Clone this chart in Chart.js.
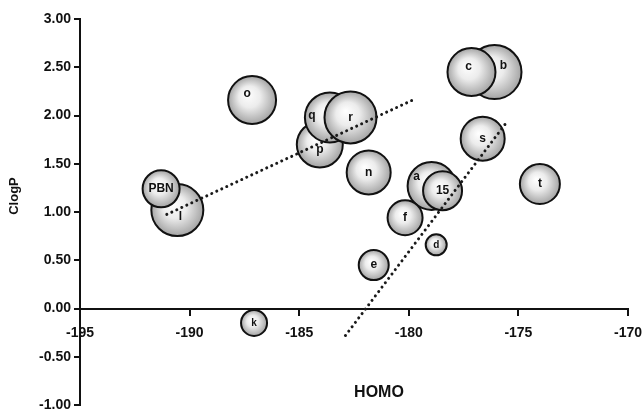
<!DOCTYPE html>
<html>
<head>
<meta charset="utf-8">
<script src="https://cdn.jsdelivr.net/npm/chart.js@4.4.1/dist/chart.umd.min.js"></script>
<style>
  html, body { margin: 0; padding: 0; background: #fff; }
  #wrap { width: 643px; height: 411px; }
</style>
</head>
<body>
<div id="wrap"><canvas id="bubbleChart"></canvas></div>
<script>
// compounds, in drawing order (later ones sit on top)
const compounds = ["l", "PBN", "o", "p", "q", "r", "n", "a", "15", "f", "d", "e", "k", "b", "c", "s", "t"];
const homo = [-190.56, -191.3, -187.15, -184.06, -183.6, -182.66, -181.83, -178.96, -178.46, -180.17, -178.75, -181.6, -187.06, -176.09, -177.14, -176.63, -174.02];
const clogp = [1.02, 1.24, 2.16, 1.70, 1.98, 1.98, 1.41, 1.27, 1.22, 0.94, 0.66, 0.45, -0.15, 2.45, 2.45, 1.76, 1.29];
const bubbleSize = [26, 18.5, 24, 23, 25, 26, 22, 24, 19.5, 17.5, 10.5, 15, 13, 27, 24, 22, 20];

// dotted trend lines (end points)
const trend1X = [-191.04, -179.73];
const trend1Y = [0.975, 2.17];
const trend2X = [-182.89, -175.57];
const trend2Y = [-0.28, 1.92];

const xTitle = "HOMO";
const yTitle = "ClogP";

// small nudges for the letters inside the bubbles
const labelNudge = {
    "l": [3, 7], "o": [-5, -6], "q": [-18, -2], "p": [0, 5],
    "a": [-15, -9], "c": [-3, -5], "b": [9, -6]
};

const bubbleData = compounds.map((name, i) => ({ x: homo[i], y: clogp[i], r: bubbleSize[i], name: name }));

function shade(context) {
    const chart = context.chart;
    const raw = context.raw;
    if (!chart.scales.x || !chart.scales.y || !raw) return "#dddddd";
    const cx = chart.scales.x.getPixelForValue(raw.x);
    const cy = chart.scales.y.getPixelForValue(raw.y);
    const r = raw.r;
    if (!isFinite(cx) || !isFinite(cy)) return "#dddddd";
    const g = chart.ctx.createRadialGradient(cx - r * 0.2, cy - r * 0.25, 0, cx, cy, r);
    g.addColorStop(0, "#ffffff");
    g.addColorStop(0.45, "#ececec");
    g.addColorStop(1, "#a4a4a4");
    return g;
}

const bubbleLabels = {
    id: "bubbleLabels",
    afterDatasetsDraw(chart) {
        const meta = chart.getDatasetMeta(2);
        const ctx = chart.ctx;
        ctx.save();
        ctx.fillStyle = "#111";
        ctx.textAlign = "center";
        ctx.textBaseline = "middle";
        meta.data.forEach((el, i) => {
            const name = compounds[i];
            const nudge = labelNudge[name] || [0, 0];
            const size = name === "k" || name === "d" ? 10 : 12;
            ctx.font = "bold " + size + "px 'Liberation Sans', Arial, sans-serif";
            ctx.fillText(name, el.x + nudge[0], el.y + nudge[1]);
        });
        ctx.restore();
    }
};

// axis titles sit a little off-centre in the original
const axisTitles = {
    id: "axisTitles",
    afterDraw(chart) {
        const ctx = chart.ctx;
        const area = chart.chartArea;
        ctx.save();
        ctx.fillStyle = "#111";
        ctx.textAlign = "center";
        ctx.textBaseline = "middle";
        ctx.font = "bold 16px 'Liberation Sans', Arial, sans-serif";
        ctx.fillText(xTitle, (area.left + area.right) / 2 + 25, 393);
        ctx.font = "bold 13px 'Liberation Sans', Arial, sans-serif";
        ctx.translate(14, (area.top + area.bottom) / 2 - 16);
        ctx.rotate(-Math.PI / 2);
        ctx.fillText(yTitle, 0, 0);
        ctx.restore();
    }
};

const dotted = {
    type: "line",
    borderColor: "#1a1a1a",
    borderWidth: 3,
    borderDash: [0.01, 5.5],
    borderCapStyle: "round",
    pointRadius: 0,
    fill: false,
    order: 0
};

const tickFont = { family: "'Liberation Sans', Arial, sans-serif", size: 14, weight: "bold" };

new Chart(document.getElementById("bubbleChart"), {
    type: "bubble",
    data: {
        datasets: [
            Object.assign({ data: trend1X.map((x, i) => ({ x: x, y: trend1Y[i] })) }, dotted),
            Object.assign({ data: trend2X.map((x, i) => ({ x: x, y: trend2Y[i] })) }, dotted),
            {
                data: bubbleData,
                backgroundColor: shade,
                borderColor: "#111",
                borderWidth: 2,
                order: 1
            }
        ]
    },
    options: {
        responsive: true,
        maintainAspectRatio: false,
        animation: false,
        layout: { autoPadding: false, padding: { top: 19, right: 15, bottom: 6, left: 0 } },
        plugins: { legend: { display: false }, tooltip: { enabled: false } },
        scales: {
            x: {
                type: "linear",
                position: { y: 0 },
                min: -195,
                max: -170,
                ticks: { stepSize: 5, color: "#111", font: tickFont, padding: 10, maxRotation: 0 },
                grid: { drawOnChartArea: false, drawTicks: true, tickLength: 6, color: "#111", lineWidth: 2 },
                border: { display: true, color: "#111", width: 2 },
                afterFit(scale) { scale.paddingLeft = 0; scale.paddingRight = 0; }
            },
            y: {
                type: "linear",
                position: "left",
                min: -1,
                max: 3,
                ticks: {
                    stepSize: 0.5, color: "#111", font: tickFont, padding: 3,
                    callback: v => v.toFixed(2)
                },
                grid: { drawOnChartArea: false, drawTicks: true, tickLength: 6, color: "#111", lineWidth: 2 },
                border: { display: true, color: "#111", width: 2 },
                afterFit(scale) { scale.width = 80; scale.paddingTop = 0; scale.paddingBottom = 0; }
            }
        }
    },
    plugins: [bubbleLabels, axisTitles]
});
</script>
</body>
</html>
